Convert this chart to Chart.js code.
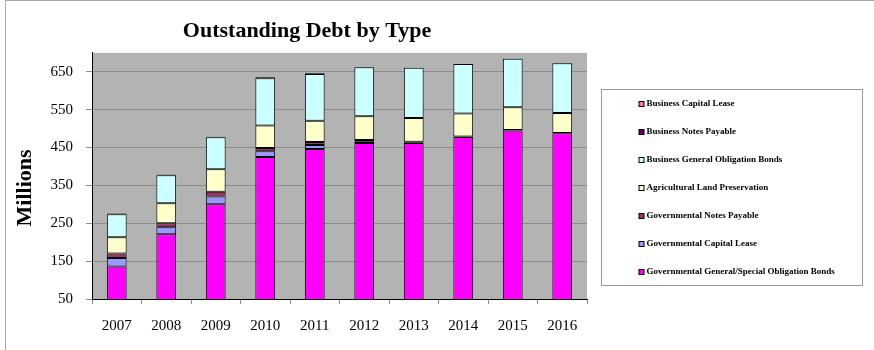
<!DOCTYPE html>
<html>
<head>
<meta charset="utf-8">
<script src="https://cdn.jsdelivr.net/npm/chart.js@4.4.1/dist/chart.umd.min.js"></script>
<style>
  html, body { margin: 0; padding: 0; background: #fff; }
  #wrap { position: relative; width: 874px; height: 350px; }
  #frame { position: absolute; left: 5px; top: 0; width: 869px; height: 350px;
           border-left: 1px solid #a6a6a6; border-top: 1px solid #a6a6a6;
           box-sizing: border-box; pointer-events: none; }
</style>
</head>
<body>
<div id="wrap">
  <canvas id="debt" width="874" height="350"></canvas>
  <div id="frame"></div>
</div>
<script>
// Fiscal years on the category axis
const years = ['2007', '2008', '2009', '2010', '2011', '2012', '2013', '2014', '2015', '2016'];

// Outstanding debt by type, in millions (stacked bottom to top)
const govGeneralSpecialBonds = [136, 221, 300, 425, 446, 462, 462, 478, 495, 488];
const govCapitalLease        = [22, 18.5, 21, 15, 10.5, 3, 1, 0, 0, 0];
const govNotesPayable        = [12, 10.5, 12, 9, 8, 5, 2, 1, 1.5, 0.5];
const agLandPreservation     = [43, 53, 60, 59, 56, 63, 63, 61, 60, 53];
const bizGeneralBonds        = [61, 74, 84, 125, 124, 129, 133, 131, 128, 131];
const bizNotesPayable        = [1.5, 1, 1, 3, 2, 1, 0, 0, 0, 0];
const bizCapitalLease        = [0.5, 0.5, 0.5, 0.5, 0.5, 0, 0, 0, 0, 0];

// Series names and fills, in stacking order
const seriesNames = [
  'Governmental General/Special Obligation Bonds',
  'Governmental Capital Lease',
  'Governmental Notes Payable',
  'Agricultural Land Preservation',
  'Business General Obligation Bonds',
  'Business Notes Payable',
  'Business Capital Lease'
];
const seriesColors = ['#ff00ff', '#9999ff', '#993366', '#ffffcc', '#ccffff', '#660066', '#ff8080'];
const seriesValues = [govGeneralSpecialBonds, govCapitalLease, govNotesPayable,
                      agLandPreservation, bizGeneralBonds, bizNotesPayable, bizCapitalLease];

// Value-axis tick labels and caption
const yTicks = [50, 150, 250, 350, 450, 550, 650];
const yCaption = 'Millions';

const SERIF = "'Liberation Serif', 'Times New Roman', serif";
Chart.defaults.font.family = SERIF;
Chart.defaults.color = '#000';

// Grey plot-area fill
const plotBackground = {
  id: 'plotBackground',
  beforeDraw(chart) {
    const { ctx, chartArea: a } = chart;
    ctx.save();
    ctx.fillStyle = '#b3b3b3';
    ctx.fillRect(a.left, a.top, a.right - a.left, a.bottom - a.top);
    ctx.restore();
  }
};

// Center the title over the region left of the legend box
const titlePlacement = {
  id: 'titlePlacement',
  afterLayout(chart) {
    const t = chart.titleBlock;
    if (!t) return;
    t.left = 14;
    t.right = chart.chartArea.right + 13;
  }
};

// Rotated caption for the value axis, set a little below the axis midpoint
const valueAxisCaption = {
  id: 'valueAxisCaption',
  afterDraw(chart) {
    const { ctx, chartArea: a } = chart;
    ctx.save();
    ctx.translate(25, (a.top + a.bottom) / 2 + 12);
    ctx.rotate(-Math.PI / 2);
    ctx.font = 'bold 22px ' + SERIF;
    ctx.textAlign = 'center';
    ctx.textBaseline = 'middle';
    ctx.fillStyle = '#000';
    ctx.fillText(yCaption, 0, 0);
    ctx.restore();
  }
};

// Framed legend on the right, listing series top-of-stack first
const boxedLegend = {
  id: 'boxedLegend',
  afterDraw(chart) {
    const { ctx } = chart;
    const frameLeft = chart.chartArea.right + 14.5;
    const frameRight = 862.5;
    const frameTop = 89.5;
    const rowStep = 28;
    const firstRow = 103.5;
    const items = chart.data.datasets.map(d => ({ label: d.label, color: d.backgroundColor })).reverse();
    const frameBottom = firstRow + rowStep * (items.length - 1) + 14;

    ctx.save();
    ctx.strokeStyle = '#999999';
    ctx.lineWidth = 1;
    ctx.strokeRect(frameLeft, frameTop, frameRight - frameLeft, frameBottom - frameTop);

    ctx.font = 'bold 9px ' + SERIF;
    ctx.textBaseline = 'middle';
    ctx.textAlign = 'left';
    const markerX = frameLeft + 37;
    items.forEach((it, i) => {
      const y = Math.round(firstRow + i * rowStep);
      ctx.fillStyle = '#000';
      ctx.fillRect(markerX, y - 3, 6, 6);
      ctx.fillStyle = it.color;
      ctx.fillRect(markerX + 1, y - 2, 4, 4);
      ctx.fillStyle = '#000';
      ctx.fillText(it.label, markerX + 8, y);
    });
    ctx.restore();
  }
};

new Chart(document.getElementById('debt'), {
  type: 'bar',
  data: {
    labels: years,
    datasets: seriesNames.map((name, i) => ({
      label: name,
      data: seriesValues[i],
      backgroundColor: seriesColors[i],
      borderColor: '#000',
      borderWidth: 1,
      borderSkipped: false,
      barPercentage: 0.4,
      categoryPercentage: 1.0
    }))
  },
  options: {
    responsive: false,
    animation: false,
    devicePixelRatio: 1,
    layout: { padding: { left: 8, right: 287, top: 0, bottom: 1 } },
    plugins: {
      legend: { display: false },
      tooltip: { enabled: false },
      title: {
        display: true,
        text: 'Outstanding Debt by Type',
        font: { size: 22, weight: 'bold', family: SERIF },
        color: '#000',
        padding: { top: 18, bottom: 8.5 }
      }
    },
    scales: {
      x: {
        stacked: true,
        grid: { offset: true, drawOnChartArea: false, drawTicks: true, tickLength: 5, color: '#8c8c8c' },
        border: { color: '#000', width: 1 },
        ticks: { font: { size: 15, family: SERIF }, color: '#000', padding: 13.5, maxRotation: 0, autoSkip: false }
      },
      y: {
        stacked: true,
        min: 50,
        max: 700,
        afterBuildTicks: scale => { scale.ticks = yTicks.map(v => ({ value: v })); },
        afterFit: scale => { scale.width = 84; },
        grid: {
          color: c => (c.tick && c.tick.value === 50 ? '#000' : '#8c8c8c'),
          tickColor: '#8c8c8c',
          tickLength: 6
        },
        border: { color: '#000', width: 1 },
        ticks: { font: { size: 15, family: SERIF }, color: '#000', padding: 13 }
      }
    }
  },
  plugins: [plotBackground, titlePlacement, valueAxisCaption, boxedLegend]
});
</script>
</body>
</html>
